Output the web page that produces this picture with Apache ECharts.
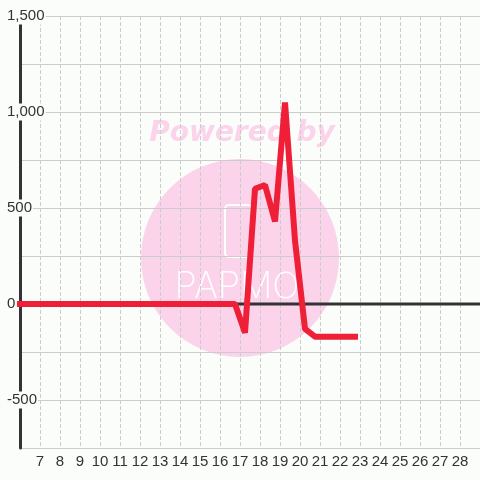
<!DOCTYPE html>
<html><head><meta charset="utf-8">
<script src="https://cdn.jsdelivr.net/npm/echarts@6/dist/echarts.min.js"></script>
<style>html,body{margin:0;padding:0;background:#fbfdfb}#c{width:480px;height:480px}</style>
</head><body><div id="c"></div>
<script>
// Data
const xValues = [6, 16.75, 17.25, 17.75, 18.25, 18.75, 19.25, 19.75, 20.25, 20.75, 22.75];
const yValues = [0, 0, -150, 600, 620, 430, 1050, 330, -130, -170, -170];
const zeroLineX = [6, 29];
const zeroLineY = [0, 0];
const xMin = 6, xMax = 29;
const yMin = -750, yMax = 1500, yStep = 250, yLabelStep = 500;

const bg = '#fbfdfb';
const chart = echarts.init(document.getElementById('c'), null, {renderer: 'canvas'});
chart.setOption({
  backgroundColor: bg,
  animation: false,
  grid: {left: 20, right: 0, top: 16, bottom: 32},
  graphic: [
    {type: 'circle', z: -10, shape: {cx: 240, cy: 258, r: 99}, style: {fill: '#fbd3ea'}},
    {type: 'text', z: -10, x: 242, y: 134, style: {text: 'Powered by', fill: '#fbd3ea', font: 'italic bold 28px "DejaVu Sans", sans-serif', align: 'center', verticalAlign: 'middle'}},
    {type: 'rect', z: -9, shape: {x: 225, y: 205, width: 27, height: 52, r: 4}, style: {fill: 'none', stroke: '#ffffff', lineWidth: 2}},
    {type: 'text', z: -9, x: 237, y: 287, style: {text: 'PAPMO', fill: '#ffffff', font: '200 36px Inter, sans-serif', align: 'center', verticalAlign: 'middle'}}
  ],
  xAxis: {
    type: 'value', min: xMin, max: xMax, interval: 1,
    axisLine: {show: false}, axisTick: {show: false},
    axisLabel: {showMinLabel: false, showMaxLabel: false, fontSize: 15, color: '#333', margin: 6, fontFamily: '"Liberation Sans", sans-serif'},
    splitLine: {show: true, lineStyle: {color: '#cccccc', type: 'dashed', width: 1}}
  },
  yAxis: {
    type: 'value', min: yMin, max: yMax, interval: yStep,
    axisLine: {show: true, lineStyle: {color: '#333', width: 3}},
    axisTick: {show: false},
    axisLabel: {
      fontSize: 15, color: '#333', margin: 14, align: 'left',
      fontFamily: '"Liberation Sans", sans-serif',
      backgroundColor: bg, padding: [1, 1, 1, 1],
      formatter: v => (v % yLabelStep === 0 ? v.toLocaleString('en-US') : '')
    },
    splitLine: {show: true, lineStyle: {color: '#cccccc', width: 1}}
  },
  series: [
    {type: 'line', data: zeroLineX.map((x, i) => [x, zeroLineY[i]]), symbol: 'none', silent: true,
     lineStyle: {color: '#333', width: 3}, z: 2},
    {type: 'line', data: xValues.map((x, i) => [x, yValues[i]]), symbol: 'none', clip: false,
     lineStyle: {color: '#ee1f37', width: 6, cap: 'square'}, z: 3}
  ]
});
</script></body></html>
